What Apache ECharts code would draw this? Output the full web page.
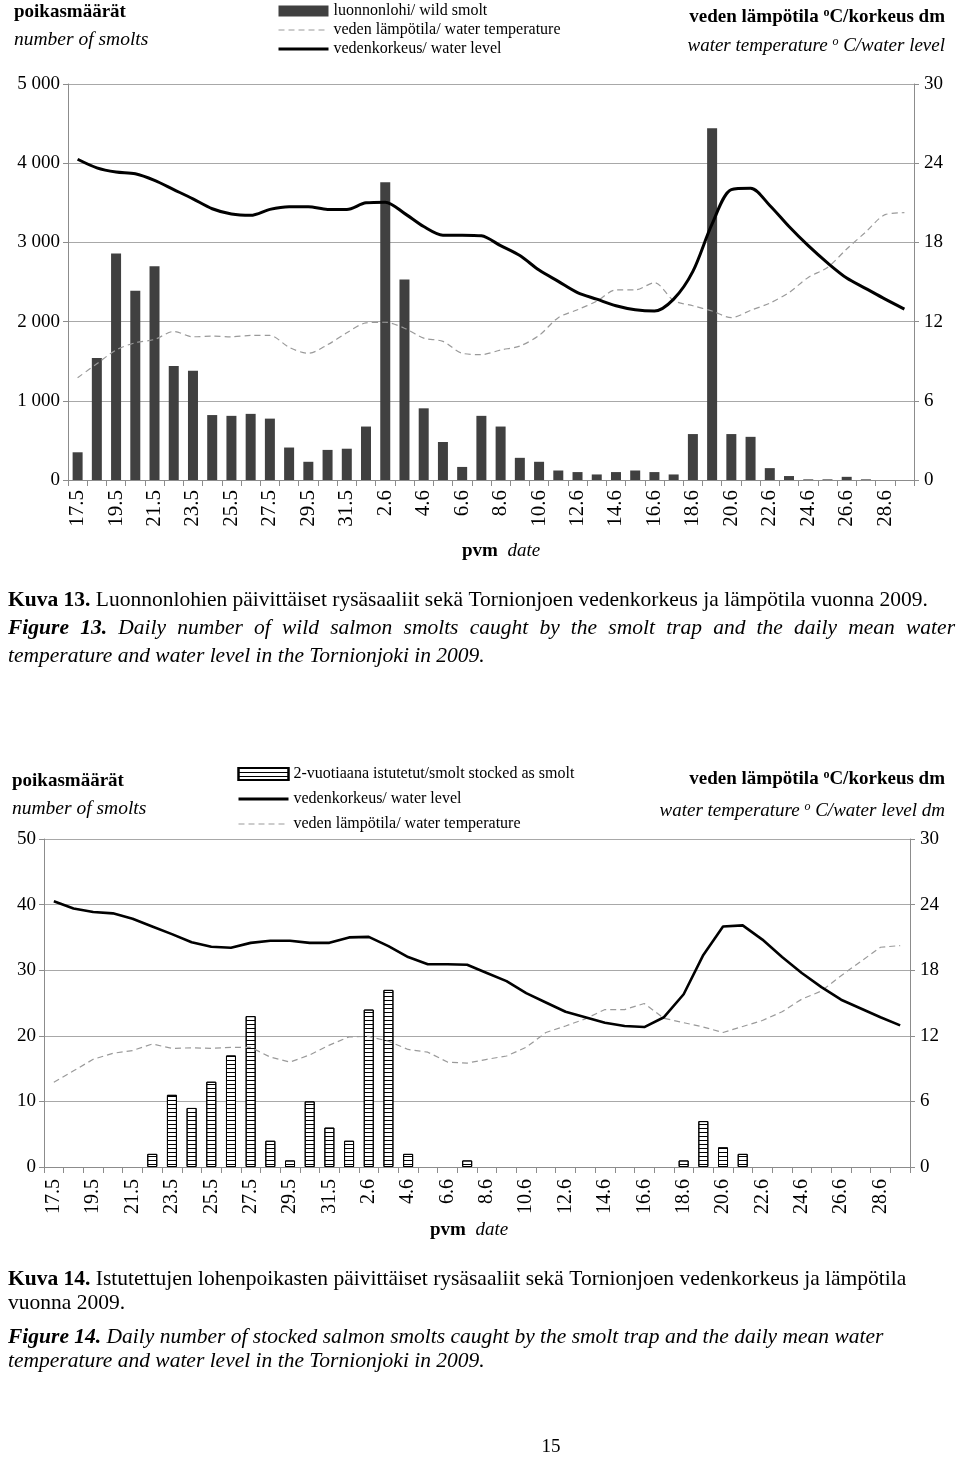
<!DOCTYPE html>
<html><head><meta charset="utf-8">
<script src="https://cdn.jsdelivr.net/npm/echarts@6/dist/echarts.min.js"></script>
<style>html,body{margin:0;padding:0;background:#fff}#c{width:960px;height:1457px}</style>
</head><body><div id="c"></div><script>
// ---- data ----
const dates = ['17.5','18.5','19.5','20.5','21.5','22.5','23.5','24.5','25.5','26.5','27.5','28.5','29.5','30.5','31.5',
  '1.6','2.6','3.6','4.6','5.6','6.6','7.6','8.6','9.6','10.6','11.6','12.6','13.6','14.6','15.6','16.6','17.6','18.6',
  '19.6','20.6','21.6','22.6','23.6','24.6','25.6','26.6','27.6','28.6','29.6'];
const wildSmolts = [350,1540,2860,2390,2700,1440,1380,820,810,835,775,410,230,380,395,675,3760,2530,905,480,165,810,675,280,230,120,100,70,100,120,100,70,580,4440,580,545,150,50,8,8,40,8,0,0];
const stockedSmolts = [0,0,0,0,0,2,11,9,13,17,23,4,1,10,6,4,24,27,2,0,0,1,0,0,0,0,0,0,0,0,0,0,1,7,3,2,0,0,0,0,0,0,0,0];
const waterLevel = [24.3,23.65,23.33,23.2,22.7,22.0,21.3,20.55,20.15,20.05,20.5,20.7,20.7,20.5,20.5,21.0,21.05,20.2,19.2,18.55,18.55,18.5,17.75,17.0,15.9,15.05,14.2,13.7,13.2,12.9,12.8,13.7,15.8,19.4,22.0,22.1,20.8,19.2,17.75,16.45,15.3,14.5,13.7,12.95];
const waterTemp = [7.75,8.8,9.85,10.4,10.65,11.25,10.85,10.9,10.85,10.95,10.95,10.05,9.6,10.25,11.15,11.9,11.95,11.5,10.75,10.5,9.6,9.5,9.85,10.15,10.95,12.3,12.9,13.55,14.4,14.4,14.95,13.6,13.2,12.8,12.3,12.85,13.4,14.2,15.35,16.1,17.5,18.8,20.1,20.25];
const smoltTicks1 = {min:0, max:5000, interval:1000};
const smoltTicks2 = {min:0, max:50, interval:10};
const rightTicks = {min:0, max:30, interval:6};

const FF = '"Liberation Serif", "Times New Roman", serif';
const NAME_WILD = 'luonnonlohi/ wild smolt';
const NAME_TEMP = 'veden lämpötila/ water temperature';
const NAME_LEVEL = 'vedenkorkeus/ water level';
const NAME_STOCK = '2-vuotiaana istutetut/smolt stocked as smolt';

const chart = echarts.init(document.getElementById('c'));

const axisGray = '#8c8c8c';
const gridGray = '#a8a8a8';
function xAxisFor(gi, fs, margin){
  return {type:'category', gridIndex:gi, data:dates, boundaryGap:true,
    axisLine:{lineStyle:{color:axisGray, width:1}},
    axisTick:{show:true, interval:0, length:6, lineStyle:{color:axisGray}},
    axisLabel:{interval:1, rotate:90, fontFamily:FF, fontSize:fs, color:'#000', margin:margin}};
}
function leftAxis(gi, t, fmt){
  return {type:'value', gridIndex:gi, position:'left', min:t.min, max:t.max, interval:t.interval,
    axisLine:{show:true, lineStyle:{color:axisGray}},
    axisTick:{show:true, length:5, lineStyle:{color:axisGray}},
    splitLine:{show:true, lineStyle:{color:gridGray, width:1}},
    axisLabel:{fontFamily:FF, fontSize:19, color:'#000', margin:8, formatter:fmt}};
}
function rightAxis(gi){
  return {type:'value', gridIndex:gi, position:'right', min:rightTicks.min, max:rightTicks.max, interval:rightTicks.interval,
    axisLine:{show:true, lineStyle:{color:axisGray}},
    axisTick:{show:true, length:5, lineStyle:{color:axisGray}},
    splitLine:{show:false},
    axisLabel:{fontFamily:FF, fontSize:19, color:'#000', margin:10}};
}
const thousands = v => v >= 1000 ? String(v).replace(/(\d)(?=\d{3}$)/, '$1 ') : String(v);

// ---- text helpers ----
const CAP = 21.5;
const mctx = document.createElement('canvas').getContext('2d');
function tw(font, s){ mctx.font = font; return mctx.measureText(s).width; }
function justifiedLine(words, x0, x1, y, size){
  const els = [];
  const fonts = words.map(w => `${w.i?'italic':'normal'} ${w.b?'bold':'normal'} ${size}px ${FF}`);
  const widths = words.map((w,k) => tw(fonts[k], w.t));
  const total = widths.reduce((a,b)=>a+b,0);
  const gap = (x1 - x0 - total) / (words.length - 1);
  let x = x0;
  words.forEach((w,k) => {
    els.push({type:'text', left:x, top:y - size*0.6, style:{text:w.t, font:fonts[k], fill:'#000'}});
    x += widths[k] + gap;
  });
  return els;
}
function txt(x, y, text, o){
  o = o || {};
  return {type:'text', x:x, y:y, style:{text:text, fontFamily:FF, fontSize:o.fs||19,
    fontWeight:o.b?'bold':'normal', fontStyle:o.i?'italic':'normal', fill:'#000',
    textAlign:o.align||'left', textVerticalAlign:'middle', rich:o.rich}};
}
const supB = {sup:{fontFamily:FF, fontSize:12, fontWeight:'bold', verticalAlign:'top', padding:[0,0,8,0]}};
const supI = {sup:{fontFamily:FF, fontSize:12, fontStyle:'italic', verticalAlign:'top', padding:[0,0,8,0]}};
const rb = {b:{fontFamily:FF, fontSize:CAP, fontWeight:'bold'}, n:{fontFamily:FF, fontSize:CAP}, bi:{fontFamily:FF, fontSize:CAP, fontWeight:'bold', fontStyle:'italic'}, i:{fontFamily:FF, fontSize:CAP, fontStyle:'italic'}};
const pvmRich = {pb:{fontFamily:FF,fontSize:19,fontWeight:'bold'}, pi:{fontFamily:FF,fontSize:19,fontStyle:'italic'}};

const fig13words = 'Figure 13. Daily number of wild salmon smolts caught by the smolt trap and the daily mean water'.split(' ')
  .map((t,k) => ({t:t, i:true, b:k<2}));

const graphics = [
  // chart 1 titles
  txt(14, 12, 'poikasmäärät', {b:true}),
  txt(14, 40, 'number of smolts', {i:true, fs:19.5}),
  txt(945, 17, 'veden lämpötila {sup|o}C/korkeus dm', {b:true, align:'right', rich:supB}),
  txt(945, 46, 'water temperature {sup|o} C/water level', {i:true, align:'right', rich:supI}),
  txt(462, 551, '{pb|pvm}  {pi|date}', {rich:pvmRich}),
  txt(8, 600, '{b|Kuva 13.} {n|Luonnonlohien päivittäiset rysäsaaliit sekä Tornionjoen vedenkorkeus ja lämpötila vuonna 2009.}', {fs:CAP, rich:rb}),
  ...justifiedLine(fig13words, 8, 955, 630, CAP),
  txt(8, 656, 'temperature and water level in the Tornionjoki in 2009.', {fs:CAP, i:true}),
  // chart 2 titles
  txt(12, 781, 'poikasmäärät', {b:true}),
  txt(12, 809, 'number of smolts', {i:true, fs:19.5}),
  txt(945, 779, 'veden lämpötila {sup|o}C/korkeus dm', {b:true, align:'right', rich:supB}),
  txt(945, 811, 'water temperature {sup|o} C/water level dm', {i:true, align:'right', rich:supI}),
  txt(430, 1230, '{pb|pvm}  {pi|date}', {rich:pvmRich}),
  txt(8, 1279, '{b|Kuva 14.} {n|Istutettujen lohenpoikasten päivittäiset rysäsaaliit sekä Tornionjoen vedenkorkeus ja lämpötila}', {fs:CAP, rich:rb}),
  txt(8, 1303, 'vuonna 2009.', {fs:CAP}),
  txt(8, 1337, '{bi|Figure 14.} {i|Daily number of stocked salmon smolts caught by the smolt trap and the daily mean water}', {fs:CAP, rich:rb}),
  txt(8, 1361, 'temperature and water level in the Tornionjoki in 2009.', {fs:CAP, i:true}),
  txt(551, 1447, '15', {fs:19, align:'center'})
];

const stripeDecal = {symbol:'rect', symbolSize:1, symbolKeepAspect:false, dashArrayX:[[4,0]], dashArrayY:[1,3], color:'#000', rotation:0};
const lineLegend = (name, w) => ({name:name, itemStyle:{opacity:0}, lineStyle:{width:w}});
const barLegend = name => ({name:name, icon:'rect'});

const option = {
  backgroundColor:'#fff',
  animation:false,
  textStyle:{fontFamily:FF},
  grid:[
    {left:68, right:46, top:84, height:396},
    {left:44, right:50, top:839, height:328}
  ],
  xAxis:[xAxisFor(0, 21, 10), xAxisFor(1, 20, 12)],
  yAxis:[leftAxis(0, smoltTicks1, thousands), rightAxis(0), leftAxis(1, smoltTicks2, v=>String(v)), rightAxis(1)],
  legend:[
    {left:272, top:-2, orient:'vertical', itemWidth:50, itemHeight:11, itemGap:3, selectedMode:false,
     textStyle:{fontFamily:FF, fontSize:16, color:'#000'},
     data:[barLegend(NAME_WILD), lineLegend(NAME_TEMP, 1.2), lineLegend(NAME_LEVEL, 3)]},
    {left:232, top:761, orient:'vertical', itemWidth:50, itemHeight:12, itemGap:9, selectedMode:false,
     textStyle:{fontFamily:FF, fontSize:16, color:'#000'},
     data:[barLegend(NAME_STOCK), lineLegend(NAME_LEVEL, 3), lineLegend(NAME_TEMP, 1.2)]}
  ],
  series:[
    {name:NAME_WILD, type:'bar', xAxisIndex:0, yAxisIndex:0, data:wildSmolts, barWidth:10,
     itemStyle:{color:'#404040'}, z:2},
    {name:NAME_TEMP, type:'line', xAxisIndex:0, yAxisIndex:1, data:waterTemp, symbol:'none', smooth:0.3,
     itemStyle:{color:'#9a9a9a'}, lineStyle:{color:'#9a9a9a', width:1.2, type:[6,4]}, z:3},
    {name:NAME_LEVEL, type:'line', xAxisIndex:0, yAxisIndex:1, data:waterLevel, symbol:'none', smooth:0.3,
     itemStyle:{color:'#000'}, lineStyle:{color:'#000', width:3}, z:4},
    {name:NAME_STOCK, type:'bar', xAxisIndex:1, yAxisIndex:2, data:stockedSmolts.map(v => v === 0 ? '-' : v), barWidth:10,
     itemStyle:{color:'#fff', borderColor:'#000', borderWidth:1, decal:stripeDecal}, z:2},
    {name:NAME_TEMP, type:'line', xAxisIndex:1, yAxisIndex:3, data:waterTemp, symbol:'none',
     itemStyle:{color:'#9a9a9a'}, lineStyle:{color:'#9a9a9a', width:1.2, type:[6,4]}, z:3},
    {name:NAME_LEVEL, type:'line', xAxisIndex:1, yAxisIndex:3, data:waterLevel, symbol:'none',
     itemStyle:{color:'#000'}, lineStyle:{color:'#000', width:2.6}, z:4}
  ],
  graphic:graphics
};
chart.setOption(option);
</script></body></html>
